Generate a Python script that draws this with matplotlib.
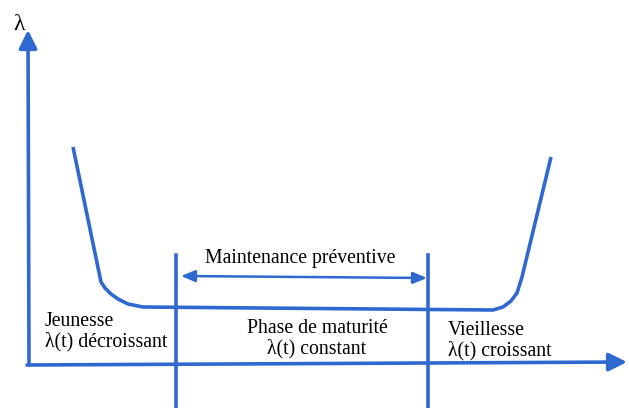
import matplotlib.pyplot as plt

# bathtub curve points (picture coordinates, y downward)
curve_x = [73, 101, 105, 111, 118, 128, 143, 493, 503, 511, 517, 522, 551]
curve_y = [147, 282, 288, 294, 299, 304, 307, 310, 307, 301, 293, 277, 157]

# phase boundaries
bound_x = [176, 428]
bound_top = 255

blue = '#2F68CF'
font = 'Liberation Serif'

fig = plt.figure(figsize=(6.29, 4.08), dpi=100)
ax = fig.add_axes([0, 0, 1, 1])
ax.set_xlim(0, 629)
ax.set_ylim(408, 0)
ax.axis('off')

# axes arrows
ax.annotate('', xy=(28, 30), xytext=(29, 365),
            arrowprops=dict(arrowstyle='-|>,head_length=0.5,head_width=0.25', color=blue, lw=2.6,
                            mutation_scale=22, shrinkA=0, shrinkB=0))
ax.annotate('', xy=(627, 362), xytext=(27, 365),
            arrowprops=dict(arrowstyle='-|>,head_length=0.5,head_width=0.25', color=blue, lw=2.6,
                            mutation_scale=22, shrinkA=0, shrinkB=0))
ax.text(19, 24, 'λ', fontsize=17, family=font, ha='center', va='center')

# curve
ax.plot(curve_x, curve_y, color=blue, lw=2.6, solid_capstyle='butt', solid_joinstyle='round')

# vertical boundaries
for bx in bound_x:
    ax.plot([bx, bx], [bound_top, 408], color=blue, lw=2.6)

# maintenance arrow
ax.annotate('', xy=(181, 276), xytext=(427, 278),
            arrowprops=dict(arrowstyle='<|-|>,head_length=0.6,head_width=0.25', color=blue, lw=1.8,
                            mutation_scale=14, shrinkA=0, shrinkB=0))
ax.text(300, 258, 'Maintenance préventive', fontsize=14.2, family=font, ha='center', va='center')

# phase labels
ax.text(45, 332, 'Jeunesse\nλ(t) décroissant', fontsize=14.2, family=font, ha='left', va='center', linespacing=1.1)
ax.text(317, 339, 'Phase de maturité\nλ(t) constant', fontsize=14.2, family=font, ha='center', va='center', linespacing=1.1)
ax.text(448, 341, 'Vieillesse\nλ(t) croissant', fontsize=14.2, family=font, ha='left', va='center', linespacing=1.1)

fig.savefig('out.png', dpi=100)
